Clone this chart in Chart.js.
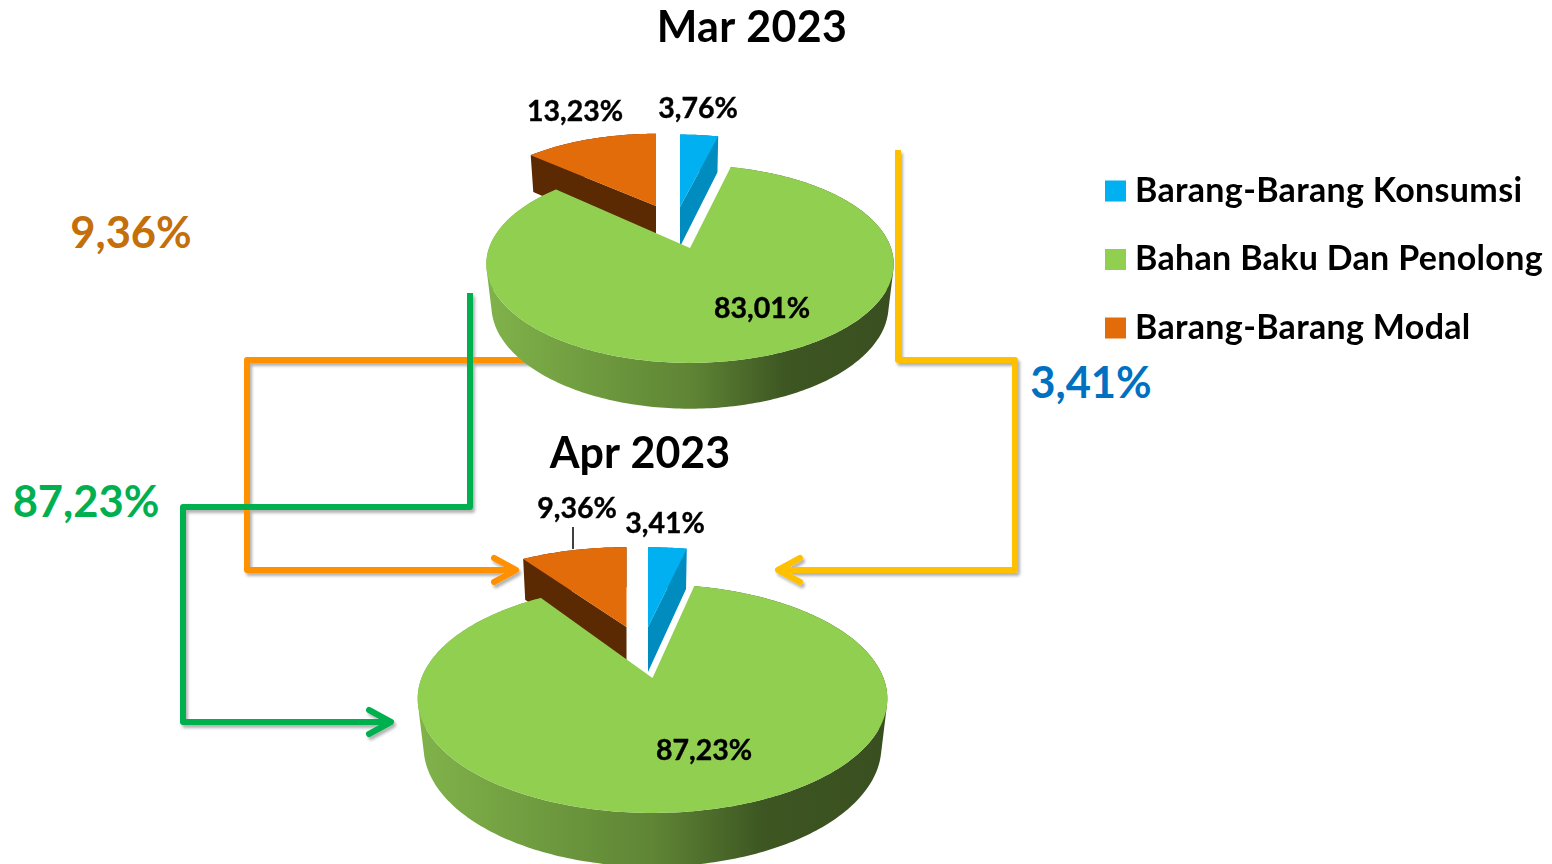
<!DOCTYPE html>
<html><head><meta charset="utf-8">
<script src="https://cdn.jsdelivr.net/npm/chart.js@4"></script>
<style>
html,body{margin:0;padding:0;background:#fff;width:1552px;height:864px;overflow:hidden}
#stage{position:relative;width:1552px;height:864px;overflow:hidden}
svg,canvas{position:absolute;left:0;top:0}
svg text{font-family:Lato,sans-serif;font-weight:700;font-size:43.5px;text-anchor:middle;dominant-baseline:central}
</style></head><body>
<div id="stage">
<svg width="1552" height="864" viewBox="0 0 1552 864">
  <defs><filter id="sh" x="-10%" y="-10%" width="120%" height="120%"><feDropShadow dx="2" dy="3" stdDeviation="1.6" flood-color="#000" flood-opacity=".3"/></filter></defs>
  <g fill="none" stroke-width="6" stroke-linejoin="round" filter="url(#sh)">
    <path stroke="#FFC000" d="M898 150V360H1015V570H778"/>
    <path stroke="#FFC000" stroke-linecap="round" d="M800 558L778 570L800 582"/>
    <path stroke="#FF9000" d="M540 360H247V570H514"/>
    <path stroke="#FF9000" stroke-linecap="round" d="M494 558L516 570L494 582"/>
    <path stroke="#00B050" d="M470 293V507H183V722H389"/>
    <path stroke="#00B050" stroke-linecap="round" d="M369 710L391 722L369 734"/>
  </g>
  <text x="131" y="231" fill="#C46F0A">9,36%</text>
  <text x="1091" y="381" fill="#0070C0">3,41%</text>
  <text x="86" y="500" fill="#00B050">87,23%</text>
</svg>
<canvas id="mar" width="1552" height="1000"></canvas>
<canvas id="apr" width="1552" height="1000"></canvas>
</div>
<script>
const categories = ['Barang-Barang Konsumsi', 'Bahan Baku Dan Penolong', 'Barang-Barang Modal'];
const marValues = [3.76, 83.01, 13.23];
const aprValues = [3.41, 87.23, 9.36];
const periods = ['Mar 2023', 'Apr 2023'];

const topColors = ['#00B0F0', '#91CF50', '#E36C0A'];
const cutColors = ['#008CBF', '#5F8433', '#5C2A02'];
const FONT = 'Lato, sans-serif';
const TILT = 0.479, DEPTH = 0.211, SINK = 0.025;
const fmt = v => v.toFixed(2).replace('.', ',') + '%';

function pie3d(cfg) {
  return {
    id: 'pie3d',
    afterUpdate(chart) {
      const t = chart.titleBlock;
      t.left = cfg.titleX - 300; t.right = cfg.titleX + 300;
      t.top = cfg.titleY - 22; t.bottom = cfg.titleY + 22;
      const l = chart.legend;
      if (l && l.options.display) {
        const pad = l.options.labels.padding;
        l.left = 1113 - pad; l.right = 1552; l.top = 191 - 17 - pad; l.bottom = 900;
        l.adjustHitBoxes();
      }
    },
    beforeDraw(chart) { if (chart.legend && chart.legend.options.display) chart.ctx.letterSpacing = '0.32px'; },
    beforeDatasetsDraw(chart) { chart.ctx.letterSpacing = '0px'; },
    beforeDatasetDraw(chart, args) {
      const ctx = chart.ctx, arcs = args.meta.data;
      const base = arcs[0];
      const proj = (u, v, z, R, s) => {
        const V = v + s[1];
        const w = 1 - cfg.persp * V + z * SINK;
        return [base.x + s[0] + R * u / w, base.y + (TILT * R * V + z * DEPTH * R) / w];
      };
      const addQuad = q => {
        let area = 0;
        q.forEach((p, k) => { const r = q[(k + 1) % 4]; area += p[0] * r[1] - r[0] * p[1]; });
        const o = area < 0 ? q.slice().reverse() : q;
        ctx.moveTo(...o[0]); ctx.lineTo(...o[1]); ctx.lineTo(...o[2]); ctx.lineTo(...o[3]); ctx.closePath();
      };
      [0, 2, 1].forEach(i => {
        const el = arcs[i], R = el.outerRadius, s = cfg.shift[i];
        const n = Math.max(8, Math.ceil((el.endAngle - el.startAngle) * 60));
        const rim = z => {
          const pts = [];
          for (let k = 0; k <= n; k++) {
            const a = el.startAngle + (el.endAngle - el.startAngle) * k / n;
            pts.push(proj(Math.cos(a), Math.sin(a), z, R, s));
          }
          return pts;
        };
        const top = rim(0), bot = rim(1);
        const aT = proj(0, 0, 0, R, s), aB = proj(0, 0, 1, R, s);
        let side = cutColors[i];
        if (i === 1) {
          const g = ctx.createLinearGradient(base.x - R, 0, base.x + R, 0);
          g.addColorStop(0, '#80B24A'); g.addColorStop(0.5, '#5F8535');
          g.addColorStop(0.74, '#3D5622'); g.addColorStop(1, '#3A4F20');
          side = g;
        }
        ctx.save();
        ctx.fillStyle = side;
        ctx.beginPath();
        for (let k = 0; k < n; k++) addQuad([top[k], top[k + 1], bot[k + 1], bot[k]]);
        if (i !== 1) {
          addQuad([aT, top[0], bot[0], aB]);
          addQuad([aT, top[n], bot[n], aB]);
        }
        ctx.fill();
        ctx.fillStyle = el.options.backgroundColor;
        ctx.beginPath(); ctx.moveTo(...aT);
        top.forEach(p => ctx.lineTo(...p));
        ctx.closePath(); ctx.fill();
        ctx.restore();
      });
      return false;
    },
    afterDatasetsDraw(chart) {
      const ctx = chart.ctx, vals = chart.data.datasets[0].data;
      ctx.save();
      ctx.fillStyle = '#000'; ctx.strokeStyle = '#000'; ctx.lineWidth = 0.4;
      ctx.textAlign = 'center'; ctx.textBaseline = 'middle';
      ctx.font = '700 ' + cfg.labelSize + 'px ' + FONT;
      vals.forEach((v, i) => {
        ctx.fillText(fmt(v), cfg.labelAt[i][0], cfg.labelAt[i][1]);
        ctx.strokeText(fmt(v), cfg.labelAt[i][0], cfg.labelAt[i][1]);
      });
      if (cfg.leader) {
        ctx.lineWidth = 1.5;
        ctx.beginPath(); ctx.moveTo(cfg.leader[0], cfg.leader[1]); ctx.lineTo(cfg.leader[0], cfg.leader[2]); ctx.stroke();
      }
      ctx.restore();
    }
  };
}

function makePie(id, values, title, padding, cfg, showLegend) {
  return new Chart(document.getElementById(id), {
    type: 'pie',
    data: { labels: categories, datasets: [{ data: values, backgroundColor: topColors, borderWidth: 0 }] },
    plugins: [pie3d(cfg)],
    options: {
      responsive: false, animation: false,
      layout: { padding },
      plugins: {
        tooltip: { enabled: false },
        title: { display: true, text: title, color: '#000', padding: 0,
                 font: { family: FONT, size: cfg.titleSize, weight: '700', lineHeight: 1 } },
        legend: {
          display: showLegend, position: 'chartArea', align: 'start',
          labels: {
            boxWidth: 5, boxHeight: 5, padding: 34.5, color: '#000',
            font: { family: FONT, size: 34, weight: '700' },
            generateLabels: c => c.data.labels.map((t, i) => ({
              text: t, fillStyle: topColors[i], strokeStyle: topColors[i], lineWidth: 16, hidden: false, index: i
            }))
          }
        }
      }
    }
  });
}

// chart area: pie centre and radius are set through the layout padding
makePie('mar', marValues, periods[0],
  { left: 489, right: 661, top: 47 - 43, bottom: 551 },
  { titleX: 752, titleY: 28.5, titleSize: 43, persp: 0.162, labelSize: 28.5,
    shift: [[-10, -0.456], [0, 0], [-34, -0.469]],
    labelAt: [[698, 109], [762, 309], [575, 112]] }, true);

makePie('apr', aprValues, periods[1],
  { left: 421.5, right: 668.5, top: 447 - 43, bottom: 91 },
  { titleX: 640, titleY: 454.5, titleSize: 43, persp: 0.18, labelSize: 28.5,
    shift: [[-4.5, -0.502], [0, 0], [-26, -0.502]],
    labelAt: [[665, 524], [704, 751], [577, 509]], leader: [573, 527, 549] }, false);
</script>
</body></html>
